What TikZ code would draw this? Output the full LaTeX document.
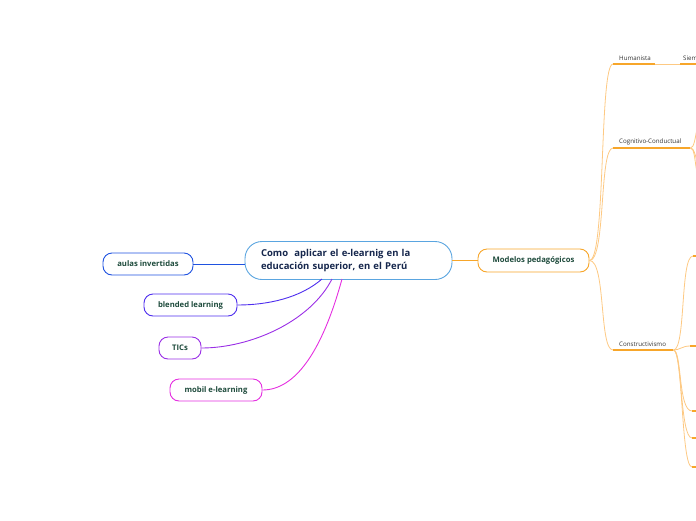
\documentclass[tikz,border=0pt]{standalone}
\usepackage{fontspec}
\setmainfont{Open Sans}
\definecolor{cblue}{HTML}{5AA5E0}
\definecolor{cnavy}{HTML}{16274D}
\definecolor{tgreen}{HTML}{1E4B3C}
\definecolor{c1}{HTML}{1F52E0}
\definecolor{c2}{HTML}{4E2EEE}
\definecolor{c3}{HTML}{9A2EE6}
\definecolor{c4}{HTML}{E52EE0}
\definecolor{corange}{HTML}{F7A62A}
\definecolor{clight}{HTML}{FDC983}
\definecolor{subtext}{HTML}{333333}
\begin{document}
\begin{tikzpicture}[x=1pt,y=-1pt,
  central/.style={draw=cblue, line width=0.9pt, rounded corners=17pt, fill=white,
    minimum width=207pt, minimum height=38pt, text width=175pt, inner xsep=16pt,
    align=left, text=cnavy, font=\bfseries\fontsize{9.5}{12.5}\selectfont},
  child/.style={draw=#1, line width=0.9pt, rounded corners=9pt, fill=white,
    minimum height=22pt, inner sep=0pt, text=tgreen, font=\bfseries\fontsize{7.7}{9}\selectfont},
  sub/.style={anchor=south west, inner xsep=6pt, inner ysep=3pt, text=subtext,
    font=\fontsize{6.2}{7}\selectfont, align=left, text width=#1},
  uline/.style={draw=corange, line width=1.6pt},
  lline/.style={draw=clight, line width=0.8pt},
  conn/.style={draw=#1, line width=0.9pt}
]
\useasboundingbox (0,0) rectangle (696,520);
\clip (0,0) rectangle (696,520);

% central and main children
\node[central] (center) at (348.5,260.5) {Como\ \ aplicar el e-learnig en la\\educación superior, en el Perú};
\node[child=c1, minimum width=90pt] (aulas) at (148,264) {aulas invertidas};
\node[child=c2, minimum width=93pt] (blended) at (190.5,305) {blended learning};
\node[child=c3, minimum width=42pt] (tics) at (180,348) {TICs};
\node[child=c4, minimum width=92pt] (mobil) at (216,390) {mobil e-learning};
\node[child=corange, minimum width=111pt, minimum height=23pt] (modelos) at (533.5,260.5) {Modelos pedagógicos};

\coordinate (sb) at (322,279);
\coordinate (st) at (332,279);
\coordinate (sm) at (342,279);

\draw[conn=c1] (aulas.east) -- (aulas.east -| center.west);
\draw[conn=c2] (sb) .. controls (300,298) and (268,305) .. (blended.east);
\draw[conn=c3] (st) .. controls (310,322) and (250,348) .. (tics.east);
\draw[conn=c4] (sm) .. controls (322,352) and (295,390) .. (mobil.east);
\draw[conn=corange] (center.east) -- (modelos.west);

% subtopics
\node[sub=30pt] (hum) at (613,64) {Humanista};
\node[sub=65pt] (cog) at (613,148) {Cognitivo-Conductual};
\node[sub=48pt] (con) at (613,350) {Constructivismo};
\node[sub=30pt, inner xsep=3pt] (siem) at (680,64) {Siem};

\draw[lline] (modelos.east) .. controls (606,260.5) and (599,64) .. (hum.south west);
\draw[lline] (modelos.east) .. controls (606,260.5) and (599,148) .. (cog.south west);
\draw[lline] (modelos.east) .. controls (606,260.5) and (599,350) .. (con.south west);
\draw[lline] (hum.south east) -- (siem.south west);

\draw[uline] (hum.south west) -- (hum.south east);
\draw[uline] (cog.south west) -- (cog.south east);
\draw[uline] (con.south west) -- (con.south east);
\draw[uline] (siem.south west) -- (siem.south east);

% branches from Cognitivo-Conductual (cut by the edge)
\coordinate (g1) at (712,100);
\coordinate (g2) at (712,185);
\coordinate (g3) at (712,200);
\draw[lline] (cog.south east) .. controls (698,148) and (694,108) .. (g1);
\draw[lline] (cog.south east) .. controls (698,148) and (694,175) .. (g2);
\draw[lline] (cog.south east) .. controls (698,148) and (692,190) .. (g3);

% branches from Constructivismo
\coordinate (k1) at (693,256);
\coordinate (k2) at (690,346);
\coordinate (k3) at (692,411);
\coordinate (k4) at (692,438);
\coordinate (k5) at (692,467);
\coordinate (e1) at (700,256);
\coordinate (e2) at (700,346);
\coordinate (e3) at (700,411);
\coordinate (e4) at (700,438);
\coordinate (e5) at (700,467);
\draw[lline] (con.south east) .. controls (686,350) and (680,256) .. (k1);
\draw[lline] (con.south east) .. controls (680,350) and (682,346) .. (k2);
\draw[lline] (con.south east) .. controls (682,350) and (678,411) .. (k3);
\draw[lline] (con.south east) .. controls (682,350) and (680,438) .. (k4);
\draw[lline] (con.south east) .. controls (683,350) and (681,467) .. (k5);
\foreach \i in {1,...,5} {\draw[uline] (k\i) -- (e\i);}
\end{tikzpicture}
\end{document}
